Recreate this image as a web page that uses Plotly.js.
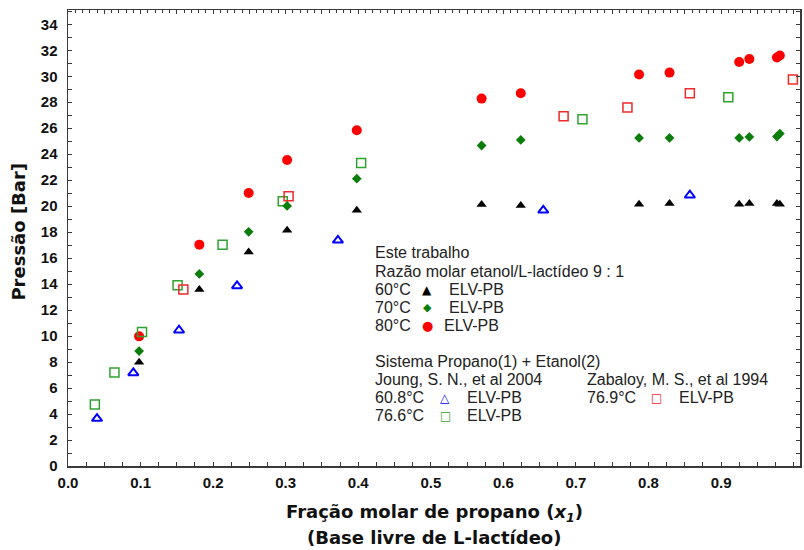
<!DOCTYPE html>
<html>
<head>
<meta charset="utf-8">
<script src="https://cdn.plot.ly/plotly-3.0.1.min.js"></script>
<style>html,body{margin:0;padding:0;background:#fff}</style>
</head>
<body>
<div id="chart" style="width:804px;height:550px"></div>
<script>
// Este trabalho: razão molar etanol/L-lactídeo 9 : 1 (mesmas composições nas três isotermas)
const xTrabalho = [0.098, 0.181, 0.249, 0.302, 0.398, 0.570, 0.624, 0.787, 0.829, 0.925, 0.939, 0.977, 0.981];
const p60C = [7.98, 13.58, 16.47, 18.14, 19.68, 20.12, 20.05, 20.15, 20.20, 20.15, 20.20, 20.20, 20.15];
const p70C = [8.85, 14.78, 18.03, 20.02, 22.12, 24.67, 25.10, 25.25, 25.25, 25.25, 25.33, 25.36, 25.59];
const p80C = [9.98, 17.04, 21.02, 23.56, 25.84, 28.28, 28.69, 30.13, 30.28, 31.10, 31.33, 31.44, 31.60];

// Sistema Propano(1) + Etanol(2) — Joung, S. N., et al 2004
const xJoung608 = [0.040, 0.090, 0.153, 0.233, 0.372, 0.655, 0.857];
const pJoung608 = [3.65, 7.16, 10.45, 13.86, 17.37, 19.68, 20.84];
const xJoung766 = [0.037, 0.064, 0.102, 0.151, 0.213, 0.296, 0.404, 0.709, 0.910];
const pJoung766 = [4.73, 7.19, 10.32, 13.91, 17.03, 20.38, 23.33, 26.69, 28.38];

// Zabaloy, M. S., et al 1994
const xZabaloy769 = [0.159, 0.304, 0.683, 0.771, 0.857, 0.999];
const pZabaloy769 = [13.58, 20.76, 26.92, 27.59, 28.69, 29.75];

// Rótulos dos eixos
const xTickVals = [0, 0.1, 0.2, 0.3, 0.4, 0.5, 0.6, 0.7, 0.8, 0.9, 1.0];
const yTickVals = [0, 2, 4, 6, 8, 10, 12, 14, 16, 18, 20, 22, 24, 26, 28, 30, 32, 34];

const AXIS = '#3a3a3a';
const TICKFONT = {family: 'Liberation Sans, Arial, sans-serif', size: 15, color: '#111', weight: 'bold'};
const TITLEFONT = {family: 'DejaVu Sans, Verdana, sans-serif', size: 18, color: '#111', weight: 'bold'};
const KEYFONT = {family: 'Liberation Sans, Arial, sans-serif', size: 16, color: '#222'};
const XMAX = 1.0088, YMAX = 35.1;

const traces = [
  {x: xTrabalho, y: p80C, type: 'scatter', mode: 'markers', name: '80°C',
   marker: {symbol: 'circle', size: 10, color: '#ff0000'}},
  {x: xJoung608, y: pJoung608, type: 'scatter', mode: 'markers', name: '60.8°C',
   marker: {symbol: 'triangle-up-open', size: 9, color: '#0000ff', line: {width: 2, color: '#0000ff'}}},
  {x: xJoung766, y: pJoung766, type: 'scatter', mode: 'markers', name: '76.6°C',
   marker: {symbol: 'square-open', size: 9, color: '#2fa32f', line: {width: 1.5, color: '#2fa32f'}}},
  {x: xZabaloy769, y: pZabaloy769, type: 'scatter', mode: 'markers', name: '76.9°C',
   marker: {symbol: 'square-open', size: 9, color: '#ee2a2a', line: {width: 1.5, color: '#ee2a2a'}}},
  {x: xTrabalho, y: p70C, type: 'scatter', mode: 'markers', name: '70°C',
   marker: {symbol: 'diamond', size: 7.5, color: '#0b7d0b'}},
  {x: xTrabalho, y: p60C, type: 'scatter', mode: 'markers', name: '60°C',
   marker: {symbol: 'triangle-up', size: 9, color: '#000000'}}
];

// Bloco de legenda escrito dentro da área do gráfico
function txt(text, x, y) {
  return {text: text, x: x, y: y, xref: 'x', yref: 'y', xanchor: 'left', yanchor: 'middle',
          showarrow: false, borderpad: 0, font: KEYFONT};
}
function key(glyph, x, y, color, size, weight) {
  return {text: glyph, x: x, y: y, xref: 'x', yref: 'y', xanchor: 'center', yanchor: 'middle',
          showarrow: false, borderpad: 0,
          font: {family: 'DejaVu Sans, sans-serif', size: size, color: color, weight: weight || 'normal'}};
}
const L0 = 0.4212, L1 = 0.7143;
const annotations = [
  txt('Este trabalho', L0, 16.40),
  txt('Razão molar etanol/L-lactídeo 9 : 1', L0, 14.97),
  txt('60°C', L0, 13.58), key('▲', 0.4948, 13.58, '#000000', 12), txt('ELV-PB', 0.5232, 13.58),
  txt('70°C', L0, 12.18), key('◆', 0.4948, 12.18, '#0b7d0b', 11), txt('ELV-PB', 0.5232, 12.18),
  txt('80°C', L0, 10.83), key('●', 0.4948, 10.83, '#ff0000', 13), txt('ELV-PB', 0.5168, 10.83),
  txt('Sistema Propano(1) + Etanol(2)', L0, 8.006),
  txt('Joung, S. N., et al 2004', L0, 6.636),
  txt('Zabaloy, M. S., et al 1994', L1, 6.636),
  txt('60.8°C', L0, 5.235), key('△', 0.520, 5.235, '#0000ff', 12, 'bold'), txt('ELV-PB', 0.5489, 5.235),
  txt('76.6°C', L0, 3.88), key('□', 0.520, 3.88, '#2fa32f', 12), txt('ELV-PB', 0.5489, 3.88),
  txt('76.9°C', L1, 5.235), key('□', 0.8108, 5.235, '#ee2a2a', 12), txt('ELV-PB', 0.8401, 5.235),
  // títulos dos eixos
  {text: 'Pressão [Bar]', xref: 'paper', yref: 'paper', x: -0.0676, y: 0.513, textangle: -90,
   xanchor: 'center', yanchor: 'middle', showarrow: false, font: TITLEFONT},
  {text: 'Fração molar de propano (<i>x<sub>1</sub></i>)', xref: 'paper', yref: 'paper', x: 0.5, y: -0.103,
   xanchor: 'center', yanchor: 'middle', showarrow: false, font: TITLEFONT},
  {text: '(Base livre de L-lactídeo)', xref: 'paper', yref: 'paper', x: 0.5, y: -0.157,
   xanchor: 'center', yanchor: 'middle', showarrow: false, font: TITLEFONT}
];

const layout = {
  width: 804, height: 550,
  margin: {l: 68, r: 4, t: 10, b: 84, pad: 0},
  paper_bgcolor: '#ffffff', plot_bgcolor: '#ffffff',
  showlegend: false,
  xaxis: {
    range: [0, XMAX], tickmode: 'array', tickvals: xTickVals, tickformat: '.1f',
    ticks: 'inside', ticklen: 4, tickwidth: 1, tickcolor: AXIS,
    minor: {dtick: 0.025, tick0: 0, ticks: 'inside', ticklen: 4, tickwidth: 1, tickcolor: AXIS},
    showline: true, linecolor: AXIS, linewidth: 1.5, mirror: true,
    showgrid: false, zeroline: false, tickfont: TICKFONT, ticklabelstandoff: 2
  },
  xaxis2: {
    overlaying: 'x', side: 'top', anchor: 'y', range: [0, XMAX],
    dtick: 0.05, tick0: 0, ticks: 'inside', ticklen: 4, tickwidth: 1, tickcolor: AXIS,
    minor: {dtick: 0.01, tick0: 0, ticks: 'inside', ticklen: 3, tickwidth: 1, tickcolor: AXIS},
    showticklabels: false, showline: false, showgrid: false, zeroline: false
  },
  yaxis: {
    range: [0, YMAX], tickmode: 'array', tickvals: yTickVals,
    ticks: 'inside', ticklen: 4, tickwidth: 1, tickcolor: AXIS,
    minor: {dtick: 1, tick0: 0, ticks: 'inside', ticklen: 4, tickwidth: 1, tickcolor: AXIS},
    showline: true, linecolor: AXIS, linewidth: 1.5, mirror: 'allticks',
    showgrid: false, zeroline: false, tickfont: TICKFONT, ticklabelstandoff: 6
  },
  annotations: annotations
};

// Eixo superior: só marcas finas, sem rótulos
traces.push({x: [], y: [], xaxis: 'x2', yaxis: 'y', type: 'scatter', mode: 'markers', hoverinfo: 'skip'});

Plotly.newPlot('chart', traces, layout, {staticPlot: true, displayModeBar: false});
</script>
</body>
</html>
